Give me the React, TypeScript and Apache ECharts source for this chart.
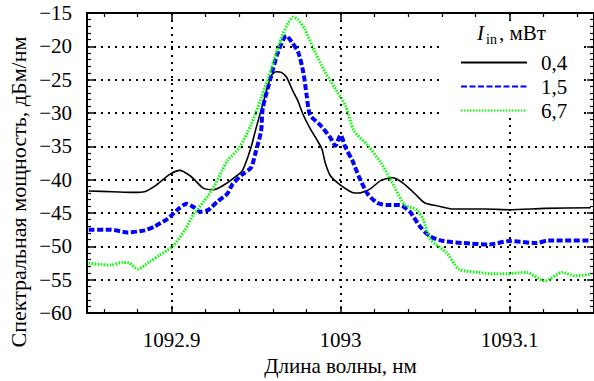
import React, { useEffect, useRef } from "react";
import * as echarts from "echarts";

const FONT = "Liberation Serif";

// Wavelength (nm) and spectral power (dBm/nm) for each input power
const wl04 = [1092.851, 1092.865, 1092.878, 1092.884, 1092.891, 1092.899, 1092.905, 1092.911, 1092.914, 1092.919, 1092.925, 1092.931, 1092.936, 1092.942, 1092.947, 1092.950, 1092.955, 1092.959, 1092.962, 1092.965, 1092.968, 1092.972, 1092.975, 1092.978, 1092.982, 1092.986, 1092.989, 1092.991, 1092.994, 1093.000, 1093.007, 1093.011, 1093.015, 1093.018, 1093.024, 1093.031, 1093.037, 1093.044, 1093.050, 1093.057, 1093.067, 1093.086, 1093.100, 1093.121, 1093.148];
const p04 = [-41.7, -41.8, -41.9, -41.8, -40.8, -39.2, -38.6, -39.4, -40.1, -41.3, -41.5, -40.8, -39.9, -38.6, -35.2, -32.3, -27.8, -24.4, -23.8, -23.9, -24.6, -26.8, -28.3, -30.3, -32.3, -34.0, -35.4, -37.5, -39.4, -40.8, -41.9, -42.0, -41.7, -41.3, -40.1, -39.7, -40.5, -42.1, -43.5, -43.9, -44.4, -44.4, -44.5, -44.3, -44.2];

const wl15 = [1092.851, 1092.864, 1092.874, 1092.884, 1092.890, 1092.898, 1092.904, 1092.909, 1092.913, 1092.917, 1092.922, 1092.927, 1092.933, 1092.936, 1092.942, 1092.947, 1092.950, 1092.953, 1092.954, 1092.959, 1092.963, 1092.968, 1092.971, 1092.975, 1092.978, 1092.980, 1092.982, 1092.988, 1092.994, 1092.997, 1093.000, 1093.003, 1093.007, 1093.011, 1093.016, 1093.022, 1093.028, 1093.035, 1093.041, 1093.047, 1093.053, 1093.061, 1093.073, 1093.088, 1093.100, 1093.116, 1093.123, 1093.148];
const p15 = [-47.5, -47.5, -47.9, -47.6, -47.0, -45.8, -44.4, -43.6, -44.1, -44.8, -44.5, -43.3, -42.1, -40.7, -39.2, -38.2, -35.7, -32.7, -29.3, -24.4, -20.9, -18.4, -19.3, -20.9, -23.9, -27.4, -30.3, -31.8, -33.7, -34.9, -33.3, -35.2, -37.1, -39.6, -42.1, -43.5, -43.8, -43.8, -44.8, -47.0, -48.5, -49.2, -49.5, -49.7, -49.2, -49.5, -49.1, -49.1];

const wl67 = [1092.851, 1092.858, 1092.864, 1092.871, 1092.875, 1092.880, 1092.887, 1092.893, 1092.901, 1092.908, 1092.913, 1092.919, 1092.925, 1092.930, 1092.933, 1092.940, 1092.947, 1092.953, 1092.959, 1092.964, 1092.969, 1092.972, 1092.975, 1092.979, 1092.985, 1092.991, 1092.998, 1093.003, 1093.008, 1093.016, 1093.024, 1093.032, 1093.038, 1093.045, 1093.049, 1093.053, 1093.063, 1093.070, 1093.082, 1093.090, 1093.098, 1093.110, 1093.121, 1093.131, 1093.139, 1093.148];
const p67 = [-52.5, -52.7, -52.8, -52.4, -52.5, -53.4, -52.3, -51.3, -49.9, -47.5, -45.2, -43.3, -41.1, -38.6, -37.2, -35.2, -31.8, -27.8, -23.4, -19.4, -16.5, -15.6, -16.0, -17.5, -20.9, -23.9, -26.8, -28.9, -32.7, -34.8, -37.5, -41.1, -43.8, -44.5, -46.0, -48.9, -51.0, -53.4, -53.9, -54.1, -54.1, -53.9, -55.2, -53.9, -54.4, -54.2];

const seriesNames = ["0,4", "1,5", "6,7"];

const X_MIN = 1092.85;
const X_MAX = 1093.15;
const Y_MIN = -60;
const Y_MAX = -15;
const Y_STEP = 5;
const X_STEP = 0.1;

const pairs = (xs: number[], ys: number[]) => xs.map((x, i) => [x, ys[i]]);

const fmtX = (v: number) => String(parseFloat(v.toFixed(3)));
const fmtY = (v: number) => (v < 0 ? "\u2212" + Math.abs(v) : String(v));

export default function App() {
  const ref = useRef<HTMLDivElement>(null);

  useEffect(() => {
    document.body.style.margin = "0";
    if (!ref.current) return;
    const chart = echarts.init(ref.current, undefined, { renderer: "svg" });

    const txt = { color: "#000", fontSize: 21, fontFamily: FONT };
    const axisLine = { show: true, onZero: false, lineStyle: { color: "#000", width: 2 } };
    const tick = { show: true, inside: true, length: 7, lineStyle: { color: "#000", width: 1.5 } };
    const minor = { show: true, splitNumber: 5, length: 4, lineStyle: { color: "#000", width: 1.2 } };
    const grid = { show: true, showMinLine: false, showMaxLine: false, lineStyle: { color: "#000", width: 2, type: [2, 5] } };

    const xBase = { type: "value", min: X_MIN, max: X_MAX, minInterval: X_STEP, maxInterval: X_STEP, splitNumber: 3 };
    const yBase = { type: "value", min: Y_MIN, max: Y_MAX, interval: Y_STEP };

    const line = (name: string, data: number[][], style: any) => ({
      name,
      type: "line",
      data,
      xAxisIndex: 0,
      yAxisIndex: 0,
      showSymbol: false,
      symbol: "none",
      smooth: 0.25,
      lineStyle: style,
      itemStyle: { color: style.color },
    });

    chart.setOption({
      animation: false,
      backgroundColor: "#fff",
      textStyle: { fontFamily: FONT },
      grid: { left: 87, top: 13, width: 512, height: 305, containLabel: false },
      xAxis: [
        {
          ...xBase,
          position: "bottom",
          axisLine,
          axisTick: tick,
          minorTick: minor,
          splitLine: grid,
          axisLabel: { show: true, showMinLabel: false, showMaxLabel: false, margin: 16, ...txt, formatter: fmtX },
          name: "Длина волны, нм",
          nameLocation: "middle",
          nameGap: 37,
          nameTextStyle: { ...txt },
        },
        {
          ...xBase,
          position: "top",
          axisLine,
          axisTick: tick,
          minorTick: minor,
          splitLine: { show: false },
          axisLabel: { show: false },
        },
      ],
      yAxis: [
        {
          ...yBase,
          position: "left",
          axisLine,
          axisTick: tick,
          minorTick: minor,
          splitLine: grid,
          axisLabel: { show: true, margin: 15, ...txt, formatter: fmtY },
        },
        {
          ...yBase,
          position: "right",
          axisLine,
          axisTick: tick,
          minorTick: minor,
          splitLine: { show: false },
          axisLabel: { show: false },
        },
      ],
      legend: {
        orient: "vertical",
        left: 460,
        top: 52,
        padding: 0,
        itemWidth: 66,
        itemHeight: 14,
        itemGap: 3,
        data: seriesNames,
        itemStyle: { opacity: 0 },
        textStyle: { ...txt, padding: [0, 0, 0, 9] },
      },
      graphic: [
        { type: "rect", z: 1, shape: { x: 444, y: 21, width: 138, height: 95 }, style: { fill: "#fff" } },
        { type: "text", z: 5, x: 477, y: 33, style: { text: "I", fontSize: 21, fontStyle: "italic", fontFamily: FONT, fill: "#000", verticalAlign: "middle" } },
        { type: "text", z: 5, x: 486, y: 39, style: { text: "in", fontSize: 14, fontFamily: FONT, fill: "#000", verticalAlign: "middle" } },
        { type: "text", z: 5, x: 499, y: 33, style: { text: ", мВт", fontSize: 21, fontFamily: FONT, fill: "#000", verticalAlign: "middle" } },
        { type: "text", z: 5, x: 18, y: 192, rotation: Math.PI / 2, style: { text: "Спектральная мощность, дБм/нм", fontSize: 22, fontFamily: FONT, fill: "#000", align: "center", verticalAlign: "middle" } },
      ],
      series: [
        line(seriesNames[0], pairs(wl04, p04), { color: "#000000", width: 1.6, type: "solid" }),
        line(seriesNames[1], pairs(wl15, p15), { color: "#0000ff", width: 4, type: [6, 2.5] }),
        line(seriesNames[2], pairs(wl67, p67), { color: "#00ff00", width: 3, type: [1.5, 1.5] }),
      ],
    });

    return () => chart.dispose();
  }, []);

  return <div ref={ref} style={{ width: 594, height: 381 }} />;
}
